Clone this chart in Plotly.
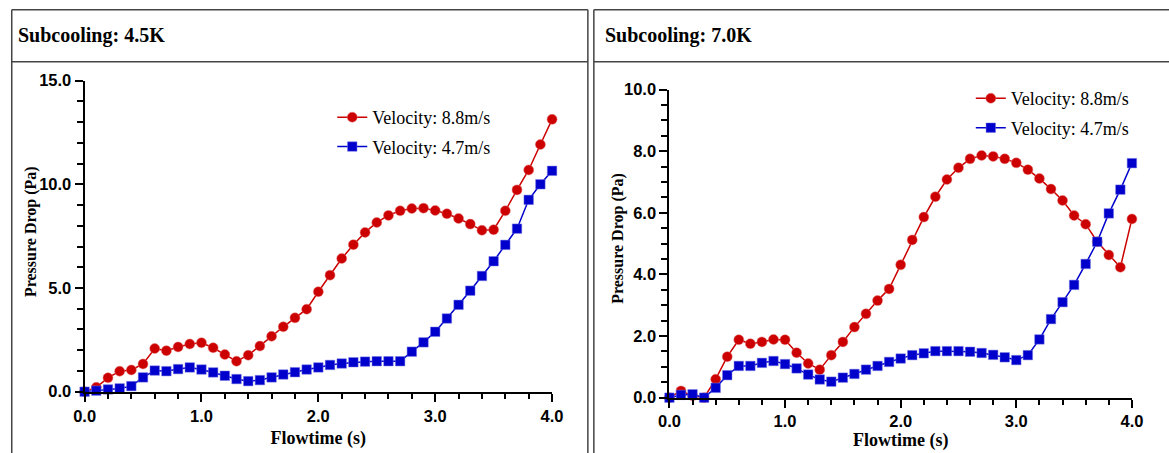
import plotly.graph_objects as go

W, H = 1169, 453
# measured rendering of the page: window = 8 + s * figure
SX, SY, OFF = 0.9865, 0.966, 8.0

# ---------------- data ----------------
flowtime = [round(i * 0.1, 1) for i in range(41)]

left_v88 = [0, 0.21, 0.67, 0.99, 1.05, 1.34, 2.08, 1.98, 2.16, 2.30, 2.36,
            2.12, 1.79, 1.47, 1.76, 2.20, 2.67, 3.13, 3.56, 3.98, 4.82,
            5.62, 6.42, 7.09, 7.68, 8.16, 8.50, 8.72, 8.83, 8.85, 8.74,
            8.58, 8.35, 8.08, 7.78, 7.81, 8.72, 9.73, 10.69, 11.92, 13.13]
left_v47 = [0, 0.05, 0.11, 0.16, 0.27, 0.69, 1.02, 0.99, 1.09, 1.17, 1.07,
            0.93, 0.77, 0.61, 0.51, 0.56, 0.69, 0.83, 0.94, 1.07, 1.17,
            1.29, 1.36, 1.42, 1.45, 1.47, 1.47, 1.47, 1.93, 2.38, 2.89,
            3.53, 4.19, 4.87, 5.58, 6.29, 7.08, 7.86, 9.25, 10.00, 10.65]

right_v88 = [0, 0.22, 0.06, 0.0, 0.60, 1.33, 1.88, 1.75, 1.81, 1.89, 1.88,
             1.46, 1.11, 0.91, 1.38, 1.81, 2.29, 2.72, 3.15, 3.53, 4.31,
             5.12, 5.86, 6.52, 7.08, 7.46, 7.75, 7.86, 7.83, 7.75, 7.62,
             7.40, 7.11, 6.77, 6.40, 5.91, 5.63, 5.06, 4.63, 4.23, 5.80]
right_v47 = [0, 0.09, 0.11, 0.0, 0.32, 0.73, 1.03, 1.03, 1.13, 1.19, 1.09,
             0.95, 0.75, 0.59, 0.52, 0.65, 0.77, 0.91, 1.03, 1.16, 1.27,
             1.38, 1.44, 1.51, 1.51, 1.51, 1.49, 1.45, 1.39, 1.31, 1.22,
             1.38, 1.89, 2.55, 3.10, 3.66, 4.34, 5.06, 5.98, 6.75, 7.61]

series_names = ["Velocity: 8.8m/s", "Velocity: 4.7m/s"]
panel_titles = ["Subcooling: 4.5K", "Subcooling: 7.0K"]
x_title = "Flowtime (s)"
y_title = "Pressure Drop (Pa)"

RED = "#CC0000"
BLUE = "#0000CC"
SERIF = "Liberation Serif, Times New Roman, serif"
SANS = "Liberation Sans, Arial, sans-serif"


def px(x):
    f = (x - OFF) / SX
    return max(0.75, f) / W


def py(y):
    f = (y - OFF) / SY
    return 1 - max(0.75, f) / H


fig = go.Figure()

panels = [
    dict(xa="x", ya="y", v88=left_v88, v47=left_v47, legend="legend"),
    dict(xa="x2", ya="y2", v88=right_v88, v47=right_v47, legend="legend2"),
]

for i, p in enumerate(panels):
    fig.add_trace(go.Scatter(
        x=flowtime, y=p["v88"], name=series_names[0], mode="lines+markers",
        xaxis=p["xa"], yaxis=p["ya"], legend=p["legend"], legendgroup=f"a{i}",
        line=dict(color=RED, width=1.5),
        marker=dict(symbol="circle", size=10, color=RED,
                    line=dict(color="rgba(230,120,120,0.6)", width=0.8)),
        cliponaxis=False))
    fig.add_trace(go.Scatter(
        x=flowtime, y=p["v47"], name=series_names[1], mode="lines+markers",
        xaxis=p["xa"], yaxis=p["ya"], legend=p["legend"], legendgroup=f"b{i}",
        line=dict(color=BLUE, width=1.5),
        marker=dict(symbol="square", size=9.5, color=BLUE,
                    line=dict(color="rgba(120,120,230,0.6)", width=0.8)),
        cliponaxis=False))

tickfont = dict(family=SANS, size=16.5, color="black", weight="bold")
xtitlefont = dict(family=SERIF, size=18, color="black", weight="bold")
ytitlefont = dict(family=SERIF, size=16, color="black", weight="bold")


def xaxis_cfg(x0, x1, standoff):
    return dict(
        domain=[px(x0), px(x1)], range=[0, 4], dtick=1, tickformat=".1f",
        showline=True, linecolor="black", linewidth=2, mirror=False,
        ticks="outside", ticklen=8, tickwidth=2, tickcolor="black",
        minor=dict(dtick=0.2, ticks="outside", ticklen=5, tickwidth=2, tickcolor="black"),
        showgrid=False, zeroline=False, tickfont=tickfont,
        title=dict(text=x_title, font=xtitlefont, standoff=standoff),
    )


def yaxis_cfg(ytop, ybot, ymax, dtick, mdtick, anchor):
    return dict(
        domain=[py(ybot), py(ytop)], range=[0, ymax], dtick=dtick, tickformat=".1f",
        showline=True, linecolor="black", linewidth=2,
        ticks="outside", ticklen=8, tickwidth=2, tickcolor="black",
        minor=dict(dtick=mdtick, ticks="outside", ticklen=6, tickwidth=2, tickcolor="black"),
        showgrid=False, zeroline=False, tickfont=tickfont, anchor=anchor,
    )


legend_font = dict(family=SERIF, size=18, color="black")

fig.update_layout(
    width=W, height=H, autosize=False,
    margin=dict(l=0, r=0, t=0, b=0),
    paper_bgcolor="white", plot_bgcolor="white",
    xaxis=dict(**xaxis_cfg(82, 552, 8), anchor="y"),
    yaxis=yaxis_cfg(80, 393, 15, 5, 1, "x"),
    xaxis2=dict(**xaxis_cfg(670, 1135, 3), anchor="y2"),
    yaxis2=yaxis_cfg(89, 399, 10, 2, 0.5, "x2"),
    legend=dict(x=px(331), y=py(98.5), xanchor="left", yanchor="top",
                font=legend_font, bgcolor="rgba(0,0,0,0)",
                traceorder="grouped", tracegroupgap=3),
    legend2=dict(x=px(973), y=py(79.5), xanchor="left", yanchor="top",
                 font=legend_font, bgcolor="rgba(0,0,0,0)",
                 traceorder="grouped", tracegroupgap=3),
    showlegend=True,
)

# panel frames
border = dict(color="#444444", width=1.5)
TOP, SEP, BOT = 7, 61, 470
shapes = [
    dict(type="line", xref="paper", yref="paper", x0=px(7), x1=px(7), y0=py(TOP), y1=py(BOT), line=border),
    dict(type="line", xref="paper", yref="paper", x0=px(588), x1=px(588), y0=py(TOP), y1=py(BOT), line=border),
    dict(type="line", xref="paper", yref="paper", x0=px(7), x1=px(588), y0=py(TOP), y1=py(TOP), line=border),
    dict(type="line", xref="paper", yref="paper", x0=px(7), x1=px(588), y0=py(SEP), y1=py(SEP), line=border),
    dict(type="line", xref="paper", yref="paper", x0=px(594), x1=px(594), y0=py(TOP), y1=py(BOT), line=border),
    dict(type="line", xref="paper", yref="paper", x0=px(594), x1=px(1200), y0=py(TOP), y1=py(TOP), line=border),
    dict(type="line", xref="paper", yref="paper", x0=px(594), x1=px(1200), y0=py(SEP), y1=py(SEP), line=border),
]
fig.update_layout(shapes=shapes)

# panel headers
for title, x in zip(panel_titles, [13.5, 603]):
    fig.add_annotation(text=title, xref="paper", yref="paper", x=px(x), y=py(35),
                       xanchor="left", yanchor="middle", showarrow=False,
                       font=dict(family=SERIF, size=20, color="black", weight="bold"))

# y-axis titles
for x, y in [(28, 231.5), (618, 238.5)]:
    fig.add_annotation(text=y_title, xref="paper", yref="paper", x=px(x), y=py(y),
                       xanchor="center", yanchor="middle", textangle=-90, showarrow=False,
                       font=ytitlefont)

fig.write_html("out.html")
